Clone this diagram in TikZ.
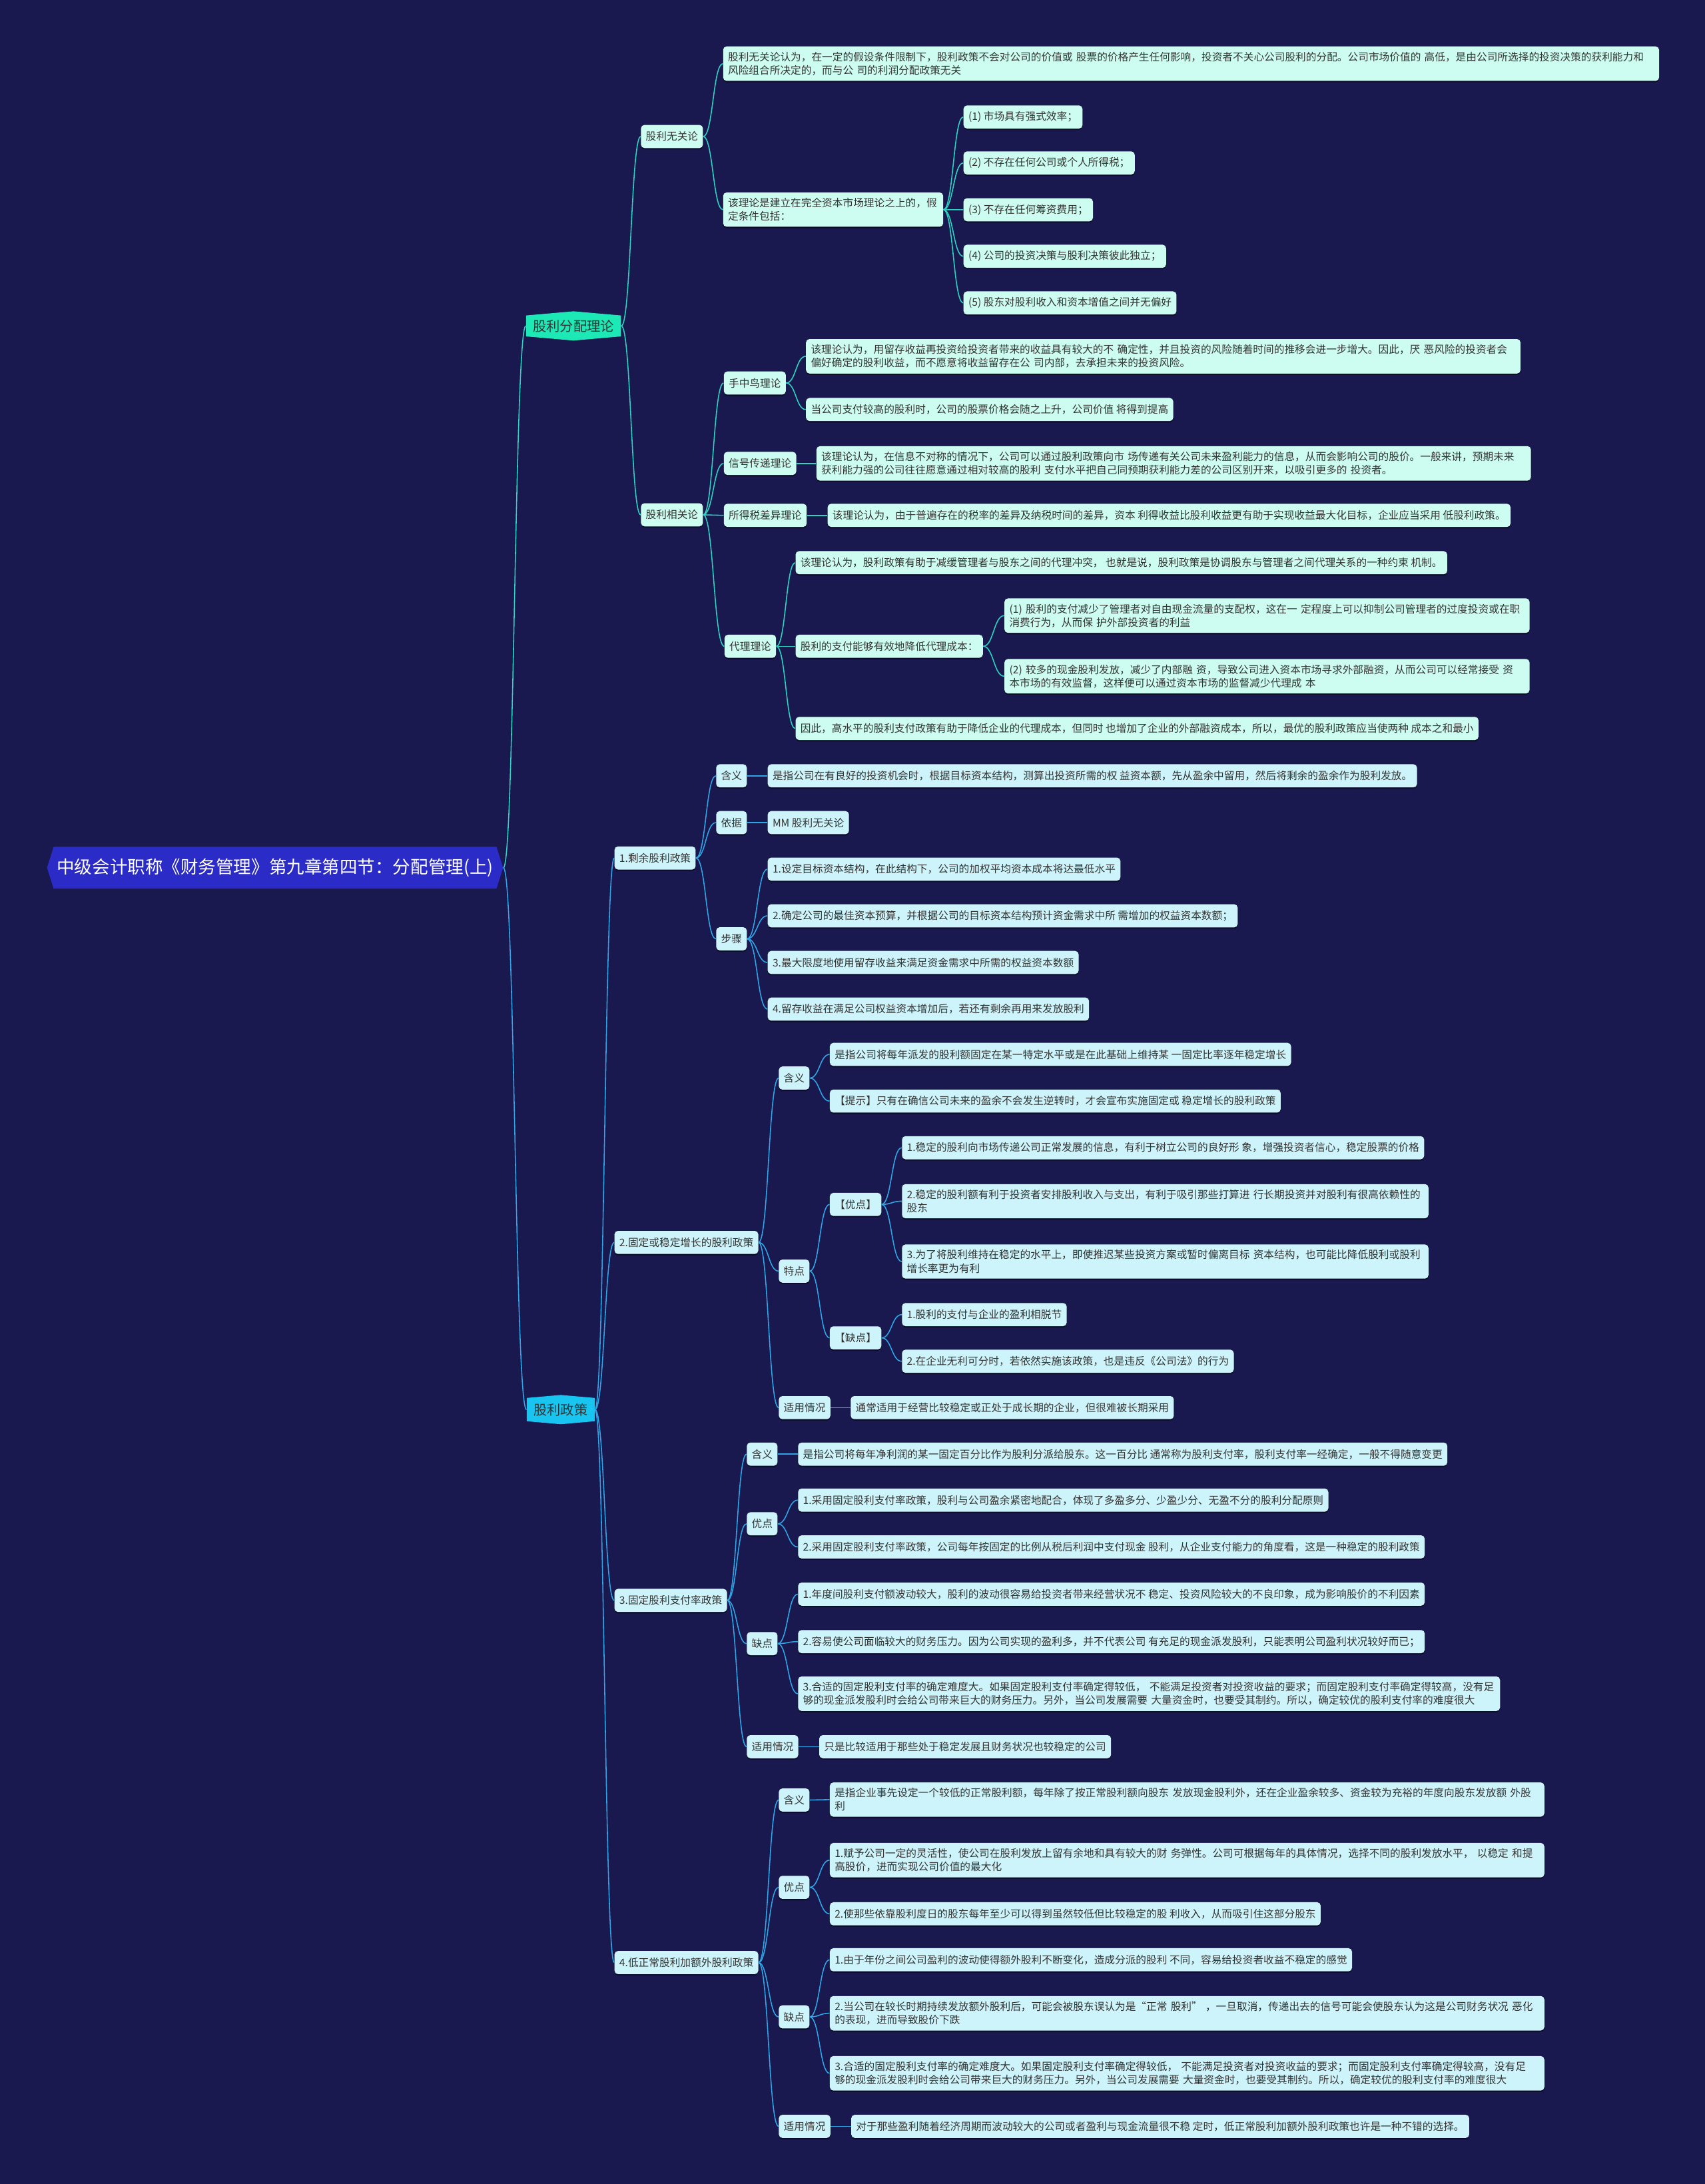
\documentclass[tikz,border=0pt]{standalone}
\usepackage{fontspec}
\setmainfont{Noto Sans CJK SC}
\usetikzlibrary{shapes.symbols,shadows,calc}

\definecolor{bg}{HTML}{19184F}
\definecolor{rootblue}{HTML}{2B2BC8}
\definecolor{mintL}{HTML}{1DE9B6}
\definecolor{skyL}{HTML}{17C5F0}
\definecolor{mint}{HTML}{CDFDF0}
\definecolor{icy}{HTML}{CDF4FB}
\definecolor{tline}{HTML}{2BD3C0}
\definecolor{bline}{HTML}{2EA6E6}
\definecolor{ink}{HTML}{333333}

\tikzset{
  rootnode/.style={shape=signal, signal to=west and east, signal pointer angle=145,
    fill=rootblue, text=white, font=\fontsize{12.7}{15}\selectfont,
    inner xsep=2.3pt, inner ysep=0pt, minimum height=30pt},
  topic/.style={shape=signal, signal to=north and south, signal pointer angle=170,
    text=ink, font=\fontsize{9.7}{12}\selectfont, inner xsep=5pt, inner ysep=0pt,
    minimum height=21pt, anchor=west},
  leaf/.style={rounded corners=2.5pt, text=ink, font=\fontsize{7.5}{9.6}\selectfont,
    inner xsep=3.5pt, inner ysep=4pt, minimum height=16.6pt, align=left, anchor=west,
    drop shadow={shadow xshift=0pt, shadow yshift=-1pt, opacity=0.45, fill=black}},
  tleaf/.style={leaf, fill=mint},
  bleaf/.style={leaf, fill=icy},
  link/.style={line width=0.75pt, to path={let \p1=(\tikztostart), \p2=(\tikztotarget),
    \n1={(\x2-\x1)/2} in .. controls (\x1+\n1,\y1) and (\x2-\n1,\y2) .. (\tikztotarget)}},
  tlink/.style={link, draw=tline},
  blink/.style={link, draw=bline},
}

\begin{document}
\begin{tikzpicture}[x=1pt, y=-1pt]
  \fill[bg] (0,0) rectangle (1224,1568);
  \useasboundingbox (0,0) rectangle (1224,1568);

  % koren a hlavne vetvy
  \node[rootnode] (root) at (197.5,623) {中级会计职称《财务管理》第九章第四节：分配管理(上)};
  \node[topic, fill=mintL] (theory) at (377.5,234) {股利分配理论};
  \node[topic, fill=skyL] (policy) at (378,1012) {股利政策};

  % 股利分配理论
  \node[tleaf] (irr) at (460,98) {股利无关论};
  \node[tleaf, text width=665pt] (irrA) at (519,45.7) {股利无关论认为，在一定的假设条件限制下，股利政策不会对公司的价值或~股票的价格产生任何影响，投资者不关心公司股利的分配。公司市场价值的~高低，是由公司所选择的投资决策的获利能力和\\风险组合所决定的，而与公~司的利润分配政策无关};
  \node[tleaf, text width=151pt] (irrB) at (519,150.5) {该理论是建立在完全资本市场理论之上的，假\\定条件包括：};
  \node[tleaf] (asm1) at (691.6,84) {(1) 市场具有强式效率；};
  \node[tleaf] (asm2) at (691.6,117) {(2) 不存在任何公司或个人所得税；};
  \node[tleaf] (asm3) at (691.6,150.6) {(3) 不存在任何筹资费用；};
  \node[tleaf] (asm4) at (691.6,184) {(4) 公司的投资决策与股利决策彼此独立；};
  \node[tleaf] (asm5) at (691.6,217.5) {(5) 股东对股利收入和资本增值之间并无偏好};

  \node[tleaf] (rel) at (460,369.6) {股利相关论};
  \node[tleaf] (bird) at (519.5,275) {手中鸟理论};
  \node[tleaf, text width=506pt] (birdA) at (578.5,255.8) {该理论认为，用留存收益再投资给投资者带来的收益具有较大的不~确定性，并且投资的风险随着时间的推移会进一步增大。因此，厌~恶风险的投资者会\\偏好确定的股利收益，而不愿意将收益留存在公~司内部，去承担未来的投资风险。};
  \node[tleaf] (birdB) at (578.5,294) {当公司支付较高的股利时，公司的股票价格会随之上升，公司价值~将得到提高};
  \node[tleaf] (sig) at (519.5,332.7) {信号传递理论};
  \node[tleaf, text width=506pt] (sigA) at (586,332.7) {该理论认为，在信息不对称的情况下，公司可以通过股利政策向市~场传递有关公司未来盈利能力的信息，从而会影响公司的股价。一般来讲，预期未来\\获利能力强的公司往往愿意通过相对较高的股利~支付水平把自己同预期获利能力差的公司区别开来，以吸引更多的~投资者。};
  \node[tleaf] (tax) at (519.5,370) {所得税差异理论};
  \node[tleaf] (taxA) at (594,370) {该理论认为，由于普遍存在的税率的差异及纳税时间的差异，资本~利得收益比股利收益更有助于实现收益最大化目标，企业应当采用~低股利政策。};
  \node[tleaf] (agent) at (520,464) {代理理论};
  \node[tleaf] (agentA) at (571,404) {该理论认为，股利政策有助于减缓管理者与股东之间的代理冲突，~也就是说，股利政策是协调股东与管理者之间代理关系的一种约束~机制。};
  \node[tleaf] (agentB) at (571,464) {股利的支付能够有效地降低代理成本：};
  \node[tleaf, text width=370pt] (agentB1) at (721,442) {(1) 股利的支付减少了管理者对自由现金流量的支配权，这在一~定程度上可以抑制公司管理者的过度投资或在职\\消费行为，从而保~护外部投资者的利益};
  \node[tleaf, text width=370pt] (agentB2) at (721,485.5) {(2) 较多的现金股利发放，减少了内部融~资，导致公司进入资本市场寻求外部融资，从而公司可以经常接受~资\\本市场的有效监督，这样便可以通过资本市场的监督减少代理成~本};
  \node[tleaf] (agentC) at (571,523) {因此，高水平的股利支付政策有助于降低企业的代理成本，但同时~也增加了企业的外部融资成本，所以，最优的股利政策应当使两种~成本之和最小};

  % 股利政策 -- 1.
  \node[bleaf] (res) at (441,616) {1.剩余股利政策};
  \node[bleaf] (resMean) at (514,557) {含义};
  \node[bleaf] (resMeanA) at (551,557) {是指公司在有良好的投资机会时，根据目标资本结构，测算出投资所需的权~益资本额，先从盈余中留用，然后将剩余的盈余作为股利发放。};
  \node[bleaf] (resBasis) at (514,590.6) {依据};
  \node[bleaf] (resBasisA) at (551,590.6) {MM 股利无关论};
  \node[bleaf] (resStep) at (514,674) {步骤};
  \node[bleaf] (resStep1) at (551,624) {1.设定目标资本结构，在此结构下，公司的加权平均资本成本将达最低水平};
  \node[bleaf] (resStep2) at (551,657.5) {2.确定公司的最佳资本预算，并根据公司的目标资本结构预计资金需求中所~需增加的权益资本数额；};
  \node[bleaf] (resStep3) at (551,691) {3.最大限度地使用留存收益来满足资金需求中所需的权益资本数额};
  \node[bleaf] (resStep4) at (551,724.5) {4.留存收益在满足公司权益资本增加后，若还有剩余再用来发放股利};

  % 2.
  \node[bleaf] (stab) at (441,892) {2.固定或稳定增长的股利政策};
  \node[bleaf] (stabMean) at (559,774) {含义};
  \node[bleaf] (stabMeanA) at (595.6,757) {是指公司将每年派发的股利额固定在某一特定水平或是在此基础上维持某~一固定比率逐年稳定增长};
  \node[bleaf] (stabMeanB) at (595.6,790.5) {【提示】只有在确信公司未来的盈余不会发生逆转时，才会宣布实施固定或~稳定增长的股利政策};
  \node[bleaf] (stabFeat) at (559,912.6) {特点};
  \node[bleaf] (stabPro) at (595.6,864.7) {【优点】};
  \node[bleaf] (stabPro1) at (647.4,824) {1.稳定的股利向市场传递公司正常发展的信息，有利于树立公司的良好形~象，增强投资者信心，稳定股票的价格};
  \node[bleaf, text width=371pt] (stabPro2) at (647.4,862.4) {2.稳定的股利额有利于投资者安排股利收入与支出，有利于吸引那些打算进~行长期投资并对股利有很高依赖性的\\股东};
  \node[bleaf, text width=371pt] (stabPro3) at (647.4,905.7) {3.为了将股利维持在稳定的水平上，即使推迟某些投资方案或暂时偏离目标~资本结构，也可能比降低股利或股利\\增长率更为有利};
  \node[bleaf] (stabCon) at (595.6,960.5) {【缺点】};
  \node[bleaf] (stabCon1) at (647.4,943.8) {1.股利的支付与企业的盈利相脱节};
  \node[bleaf] (stabCon2) at (647.4,977.3) {2.在企业无利可分时，若依然实施该政策，也是违反《公司法》的行为};
  \node[bleaf] (stabUse) at (559,1010.6) {适用情况};
  \node[bleaf] (stabUseA) at (610.6,1010.6) {通常适用于经营比较稳定或正处于成长期的企业，但很难被长期采用};

  % 3.
  \node[bleaf] (fix) at (441,1149) {3.固定股利支付率政策};
  \node[bleaf] (fixMean) at (536,1044) {含义};
  \node[bleaf] (fixMeanA) at (572.8,1044) {是指公司将每年净利润的某一固定百分比作为股利分派给股东。这一百分比~通常称为股利支付率，股利支付率一经确定，一般不得随意变更};
  \node[bleaf] (fixPro) at (536,1094) {优点};
  \node[bleaf] (fixPro1) at (572.8,1077) {1.采用固定股利支付率政策，股利与公司盈余紧密地配合，体现了多盈多分、少盈少分、无盈不分的股利分配原则};
  \node[bleaf] (fixPro2) at (572.8,1110.6) {2.采用固定股利支付率政策，公司每年按固定的比例从税后利润中支付现金~股利，从企业支付能力的角度看，这是一种稳定的股利政策};
  \node[bleaf] (fixCon) at (536,1180) {缺点};
  \node[bleaf] (fixCon1) at (572.8,1144.5) {1.年度间股利支付额波动较大，股利的波动很容易给投资者带来经营状况不~稳定、投资风险较大的不良印象，成为影响股价的不利因素};
  \node[bleaf] (fixCon2) at (572.8,1178.6) {2.容易使公司面临较大的财务压力。因为公司实现的盈利多，并不代表公司~有充足的现金派发股利，只能表明公司盈利状况较好而已；};
  \node[bleaf, text width=497pt] (fixCon3) at (572.8,1216) {3.合适的固定股利支付率的确定难度大。如果固定股利支付率确定得较低，~不能满足投资者对投资收益的要求；而固定股利支付率确定得较高，没有足\\够的现金派发股利时会给公司带来巨大的财务压力。另外，当公司发展需要~大量资金时，也要受其制约。所以，确定较优的股利支付率的难度很大};
  \node[bleaf] (fixUse) at (536,1254) {适用情况};
  \node[bleaf] (fixUseA) at (588,1254) {只是比较适用于那些处于稳定发展且财务状况也较稳定的公司};

  % 4.
  \node[bleaf] (low) at (441,1409) {4.低正常股利加额外股利政策};
  \node[bleaf] (lowMean) at (559,1292.3) {含义};
  \node[bleaf, text width=506pt] (lowMeanA) at (595.6,1292) {是指企业事先设定一个较低的正常股利额，每年除了按正常股利额向股东~发放现金股利外，还在企业盈余较多、资金较为充裕的年度向股东发放额~外股\\利};
  \node[bleaf] (lowPro) at (559,1355) {优点};
  \node[bleaf, text width=506pt] (lowPro1) at (595.6,1335.5) {1.赋予公司一定的灵活性，使公司在股利发放上留有余地和具有较大的财~务弹性。公司可根据每年的具体情况，选择不同的股利发放水平，~以稳定~和提\\高股价，进而实现公司价值的最大化};
  \node[bleaf] (lowPro2) at (595.6,1374) {2.使那些依靠股利度日的股东每年至少可以得到虽然较低但比较稳定的股~利收入，从而吸引住这部分股东};
  \node[bleaf] (lowCon) at (559,1448) {缺点};
  \node[bleaf] (lowCon1) at (595.6,1407) {1.由于年份之间公司盈利的波动使得额外股利不断变化，造成分派的股利~不同，容易给投资者收益不稳定的感觉};
  \node[bleaf, text width=506pt] (lowCon2) at (595.6,1445.4) {2.当公司在较长时期持续发放额外股利后，可能会被股东误认为是“正常~股利”~，一旦取消，传递出去的信号可能会使股东认为这是公司财务状况~恶化\\的表现，进而导致股价下跌};
  \node[bleaf, text width=506pt] (lowCon3) at (595.6,1488.5) {3.合适的固定股利支付率的确定难度大。如果固定股利支付率确定得较低，~不能满足投资者对投资收益的要求；而固定股利支付率确定得较高，没有足\\够的现金派发股利时会给公司带来巨大的财务压力。另外，当公司发展需要~大量资金时，也要受其制约。所以，确定较优的股利支付率的难度很大};
  \node[bleaf] (lowUse) at (559,1526.6) {适用情况};
  \node[bleaf] (lowUseA) at (611,1526.6) {对于那些盈利随着经济周期而波动较大的公司或者盈利与现金流量很不稳~定时，低正常股利加额外股利政策也许是一种不错的选择。};

  % spojnice
  \draw[tlink] (root.east) to (theory.west);
  \draw[blink] (root.east) to (policy.west);

  \foreach \k in {irr,rel} \draw[tlink] (theory.east) to (\k.west);
  \foreach \k in {irrA,irrB} \draw[tlink] (irr.east) to (\k.west);
  \foreach \k in {asm1,asm2,asm3,asm4,asm5} \draw[tlink] (irrB.east) to (\k.west);
  \foreach \k in {bird,sig,tax,agent} \draw[tlink] (rel.east) to (\k.west);
  \foreach \k in {birdA,birdB} \draw[tlink] (bird.east) to (\k.west);
  \draw[tlink] (sig.east) to (sigA.west);
  \draw[tlink] (tax.east) to (taxA.west);
  \foreach \k in {agentA,agentB,agentC} \draw[tlink] (agent.east) to (\k.west);
  \foreach \k in {agentB1,agentB2} \draw[tlink] (agentB.east) to (\k.west);

  \foreach \k in {res,stab,fix,low} \draw[blink] (policy.east) to (\k.west);
  \foreach \a/\b in {res/resMean, res/resBasis, res/resStep, resMean/resMeanA, resBasis/resBasisA,
      resStep/resStep1, resStep/resStep2, resStep/resStep3, resStep/resStep4,
      stab/stabMean, stab/stabFeat, stab/stabUse, stabMean/stabMeanA, stabMean/stabMeanB,
      stabFeat/stabPro, stabFeat/stabCon, stabPro/stabPro1, stabPro/stabPro2, stabPro/stabPro3,
      stabCon/stabCon1, stabCon/stabCon2, stabUse/stabUseA,
      fix/fixMean, fix/fixPro, fix/fixCon, fix/fixUse, fixMean/fixMeanA, fixPro/fixPro1, fixPro/fixPro2,
      fixCon/fixCon1, fixCon/fixCon2, fixCon/fixCon3, fixUse/fixUseA,
      low/lowMean, low/lowPro, low/lowCon, low/lowUse, lowMean/lowMeanA, lowPro/lowPro1, lowPro/lowPro2,
      lowCon/lowCon1, lowCon/lowCon2, lowCon/lowCon3, lowUse/lowUseA}
    \draw[blink] (\a.east) to (\b.west);
\end{tikzpicture}
\end{document}
